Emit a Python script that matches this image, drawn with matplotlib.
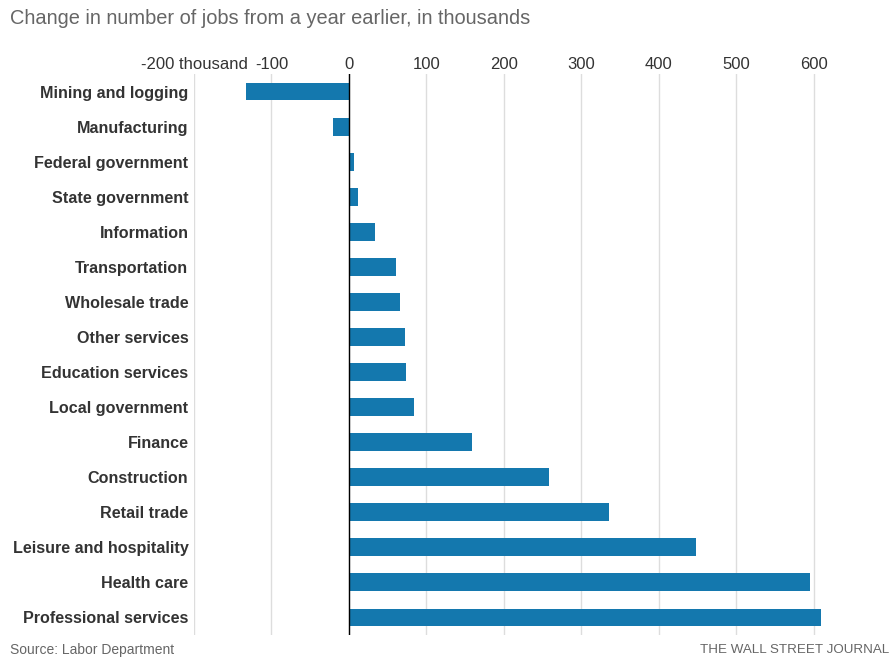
import matplotlib.pyplot as plt

plt.rcParams['font.family'] = ['Liberation Sans', 'DejaVu Sans']

# Data
categories = ['Mining and logging', 'Manufacturing', 'Federal government',
              'State government', 'Information', 'Transportation',
              'Wholesale trade', 'Other services', 'Education services',
              'Local government', 'Finance', 'Construction', 'Retail trade',
              'Leisure and hospitality', 'Health care', 'Professional services']
changes = [-133, -21, 6, 12, 34, 61, 66, 72, 74, 84, 159, 259, 336, 448, 596, 609]
tick_values = [-200, -100, 0, 100, 200, 300, 400, 500, 600]
tick_labels = ['-200 thousand', '-100', '0', '100', '200', '300', '400', '500', '600']

fig = plt.figure(figsize=(8.91, 6.58), dpi=100)
ax = fig.add_axes([194 / 891, 23 / 658, (860 - 194) / 891, 561 / 658])

y = range(len(categories))
ax.barh(y, changes, height=0.51, color='#1478ae', zorder=3)

ax.set_xlim(-200, 660)
ax.set_ylim(len(categories) - 0.5, -0.5)

# gridlines and zero line
for v in tick_values:
    ax.axvline(v, color='#dddddd', lw=1, zorder=1)
ax.axvline(0, color='black', lw=1, zorder=4)

ax.set_xticks(tick_values)
ax.set_xticklabels(tick_labels, fontsize=12, color='#333333')
ax.xaxis.tick_top()
ax.tick_params(axis='x', length=0, pad=1.5)

ax.set_yticks(list(y))
ax.set_yticklabels(categories, fontsize=11.6, fontweight='bold', color='#333333')
ax.tick_params(axis='y', length=0, pad=4)

for s in ax.spines.values():
    s.set_visible(False)

fig.text(10 / 891, 1 - 19 / 658, 'Change in number of jobs from a year earlier, in thousands',
         fontsize=14.4, color='#666666', ha='left', va='center')
fig.text(10 / 891, 1 - 650 / 658, 'Source: Labor Department',
         fontsize=10, color='#666666', ha='left', va='center')
fig.text(889 / 891, 1 - 650 / 658, 'THE WALL STREET JOURNAL',
         fontsize=9.6, color='#666666', ha='right', va='center')

plt.savefig('out.png', dpi=100)
